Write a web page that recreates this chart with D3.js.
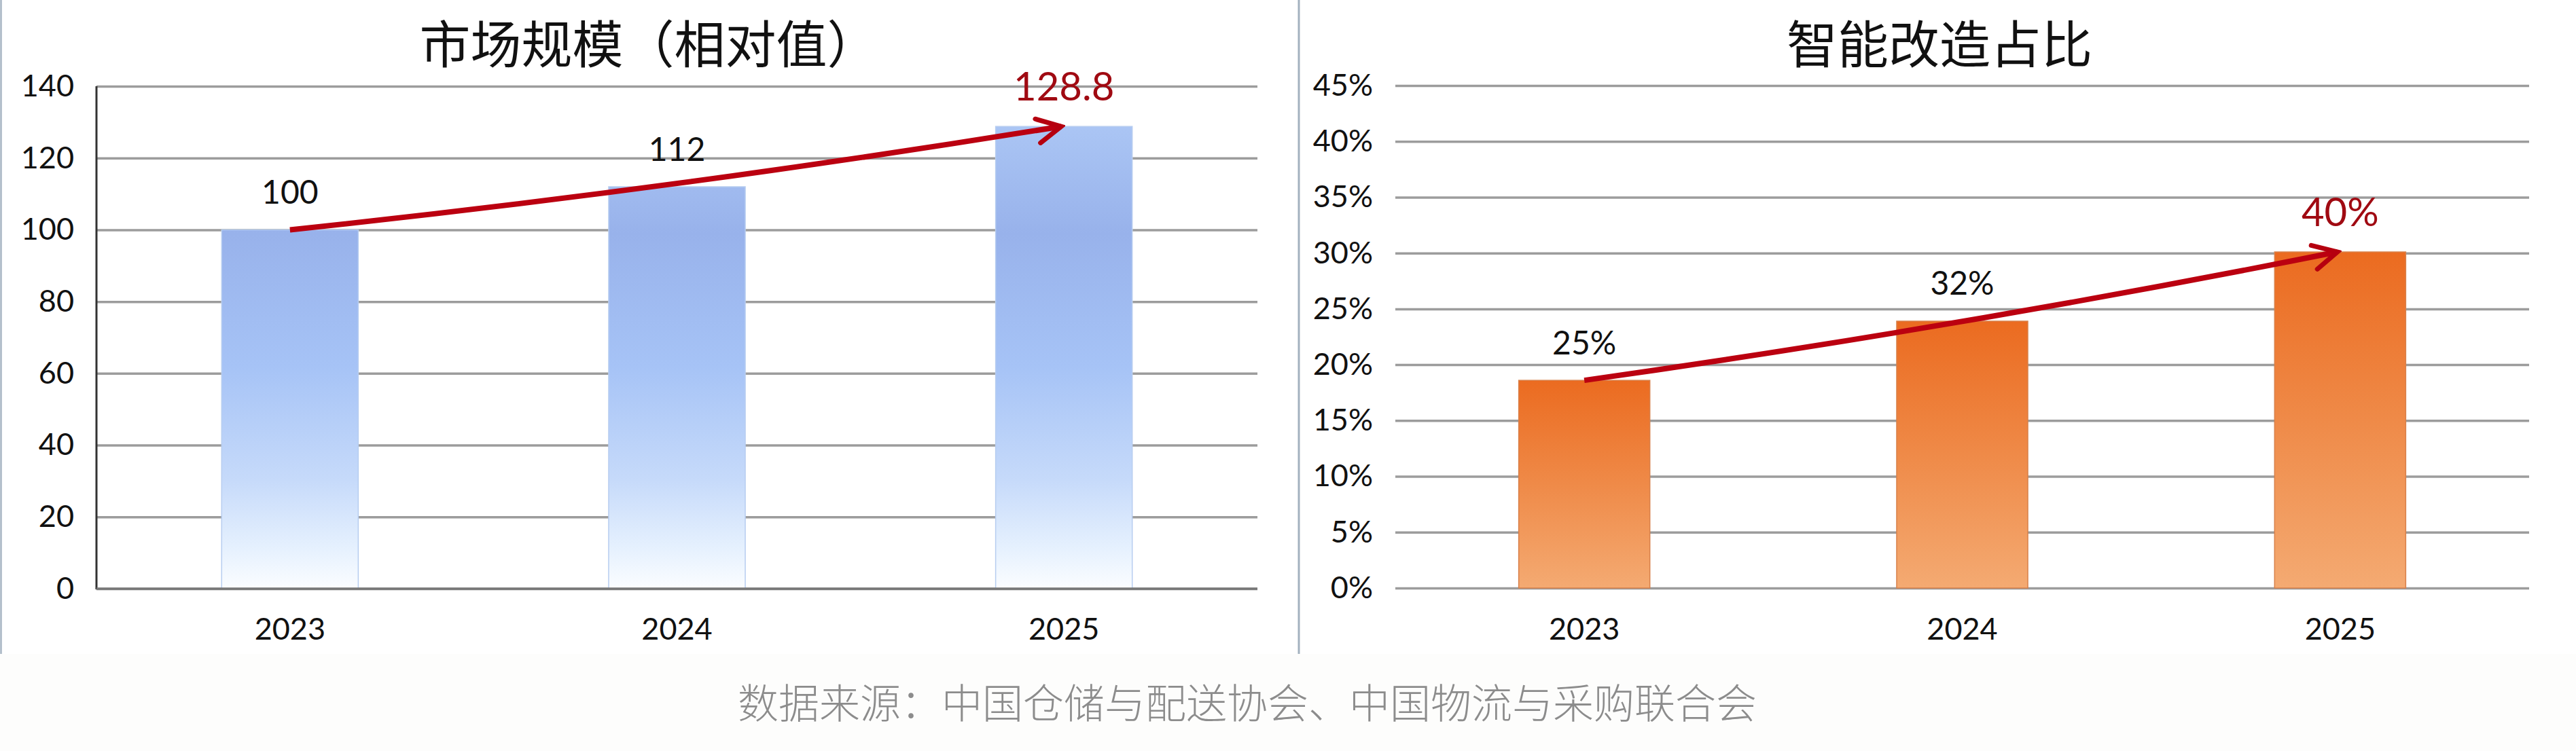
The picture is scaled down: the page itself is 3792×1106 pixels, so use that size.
<!DOCTYPE html>
<html><head><meta charset="utf-8">
<script src="https://cdn.jsdelivr.net/npm/d3@7"></script>
<style>
html,body{margin:0;padding:0;background:#fff;}
svg{display:block;}
</style></head>
<body>
<svg id="chart" width="3792" height="1106"></svg>
<script>
// ---- data ----
const years = ["2023", "2024", "2025"];
const marketValues = [100, 112, 128.8];
const marketLabels = ["100", "112", "128.8"];
const marketTicks = [0, 20, 40, 60, 80, 100, 120, 140];
const shareValues = [18.6, 23.9, 30.1];          // bar heights as drawn (%)
const shareLabels = ["25%", "32%", "40%"];
const shareTicks = [0, 5, 10, 15, 20, 25, 30, 35, 40, 45];
const titles = ["市场规模（相对值）", "智能改造占比"];
const sourceText = "数据来源：中国仓储与配送协会、中国物流与采购联合会";

const svg = d3.select("#chart");
const numFont = "Lato, 'Open Sans', 'Noto Sans', sans-serif";
const cjkFont = "'Noto Sans CJK SC', 'Noto Sans', sans-serif";

// background strip at the bottom
svg.append("rect").attr("x",0).attr("y",963).attr("width",3792).attr("height",143).attr("fill","#fdfdfc");
// panel separators
svg.append("line").attr("x1",1.5).attr("x2",1.5).attr("y1",0).attr("y2",963).attr("stroke","#b4c0cc").attr("stroke-width",3);
svg.append("line").attr("x1",1912).attr("x2",1912).attr("y1",0).attr("y2",963).attr("stroke","#a3b1bf").attr("stroke-width",3);

const defs = svg.append("defs");
const gBlue = defs.append("linearGradient").attr("id","gBlue").attr("x1",0).attr("x2",0)
  .attr("gradientUnits","userSpaceOnUse").attr("y1",140).attr("y2",867);
[[0,"#b0cbf7"],[0.28,"#98b2eb"],[0.55,"#a6c3f6"],[0.78,"#c6dafa"],[0.92,"#e6f1fe"],[1,"#fbfdff"]]
  .forEach(([o,c])=>gBlue.append("stop").attr("offset",o).attr("stop-color",c));
const gOrange2 = defs.append("linearGradient").attr("id","gOrange2").attr("x1",0).attr("x2",0)
  .attr("gradientUnits","objectBoundingBox").attr("y1",0).attr("y2",1);
[[0,"#eb6b20"],[0.5,"#ef8a48"],[1,"#f4aa72"]]
  .forEach(([o,c])=>gOrange2.append("stop").attr("offset",o).attr("stop-color",c));

defs.append("marker").attr("id","arrowHead").attr("markerUnits","userSpaceOnUse")
  .attr("viewBox","-44 -24 50 48").attr("refX",0).attr("refY",0)
  .attr("markerWidth",50).attr("markerHeight",48).attr("orient","auto")
  .append("path").attr("d","M-36,-17 L0,0 L-34,19").attr("fill","none")
  .attr("stroke","#b5000f").attr("stroke-width",7).attr("stroke-linejoin","miter").attr("stroke-linecap","round");

function panel(cfg){
  const g = svg.append("g");
  const x = d3.scaleBand().domain(years).range([cfg.left, cfg.right]).padding(0);
  const y = d3.scaleLinear().domain([cfg.ticks[0], cfg.ticks[cfg.ticks.length-1]]).range([cfg.bottom, cfg.top]);

  // title
  g.append("text").attr("x",cfg.titleX).attr("y",60).attr("text-anchor","middle")
    .attr("dominant-baseline","central").attr("font-family",cjkFont).attr("font-size",75)
    .attr("fill","#111").text(cfg.title);

  // gridlines + tick labels via axis
  const ax = g.append("g").attr("transform",`translate(${cfg.left},0)`)
    .call(d3.axisLeft(y).tickValues(cfg.ticks).tickSize(-(cfg.right-cfg.left)).tickPadding(33).tickFormat(cfg.tickFmt));
  ax.select(".domain").remove();
  ax.selectAll(".tick line").attr("stroke","#9c9c9c").attr("stroke-width",3.5);
  ax.selectAll(".tick text").attr("font-family",numFont).attr("font-size",45).attr("fill","#111");

  // bars
  const bw = x.step()*cfg.barFrac;
  g.selectAll("rect.bar").data(cfg.values).join("rect").attr("class","bar")
    .attr("x",(d,i)=>x(years[i])+x.step()/2-bw/2).attr("width",bw)
    .attr("y",d=>y(d)).attr("height",d=>y(0)-y(d))
    .attr("fill",cfg.fill).attr("stroke",cfg.stroke).attr("stroke-width",1.5);

  if (cfg.axisLine) {
    g.append("line").attr("x1",cfg.left).attr("x2",cfg.left).attr("y1",cfg.top).attr("y2",cfg.bottom+1)
      .attr("stroke","#333").attr("stroke-width",3);
    g.append("line").attr("x1",cfg.left).attr("x2",cfg.right).attr("y1",cfg.bottom).attr("y2",cfg.bottom)
      .attr("stroke","#777").attr("stroke-width",3.5);
  }

  // x labels
  g.selectAll("text.xl").data(years).join("text").attr("class","xl")
    .attr("x",d=>x(d)+x.step()/2).attr("y",925).attr("text-anchor","middle").attr("dominant-baseline","central")
    .attr("font-family",numFont).attr("font-size",45).attr("fill","#111").text(d=>d);

  // value labels
  g.selectAll("text.vl").data(cfg.values).join("text").attr("class","vl")
    .attr("x",(d,i)=>x(years[i])+x.step()/2)
    .attr("y",(d,i)=> y(d) - (i===2 ? 61 : 57))
    .attr("text-anchor","middle").attr("dominant-baseline","central")
    .attr("font-family",numFont)
    .attr("font-size",(d,i)=> i===2 ? 58 : 48)
    .attr("fill",(d,i)=> i===2 ? "#a00a12" : "#111")
    .text((d,i)=>cfg.labels[i]);

  // trend arrow from first bar top to last bar top
  const x0 = x(years[0])+x.step()/2, y0 = y(cfg.values[0]);
  const x1 = x(years[2])+x.step()/2, y1 = y(cfg.values[2]);
  const cx = (x0+x1)/2, cy = (y0+y1)/2 + cfg.sag;
  g.append("path").attr("d",`M${x0},${y0} Q${cx},${cy} ${x1-4},${y1}`)
    .attr("fill","none").attr("stroke","#bb0010").attr("stroke-width",8)
    .attr("marker-end","url(#arrowHead)");
}

panel({title:titles[0], titleX:955, left:142, right:1851, top:127, bottom:867,
  ticks:marketTicks, tickFmt:d=>d, values:marketValues, labels:marketLabels,
  barFrac:0.353, fill:"url(#gBlue)", stroke:"#b7cdf0", axisLine:true, sag:16});

panel({title:titles[1], titleX:2855, left:2054, right:3723, top:126, bottom:866,
  ticks:shareTicks, tickFmt:d=>d+"%", values:shareValues, labels:shareLabels,
  barFrac:0.347, fill:"url(#gOrange2)", stroke:"#d8804a", axisLine:false, sag:16});

// source note
svg.append("text").attr("x",1836).attr("y",1031).attr("text-anchor","middle").attr("dominant-baseline","central")
  .attr("font-family",cjkFont).attr("font-weight",300).attr("font-size",60).attr("fill","#8c8c8c").text(sourceText);
</script>
</body></html>
